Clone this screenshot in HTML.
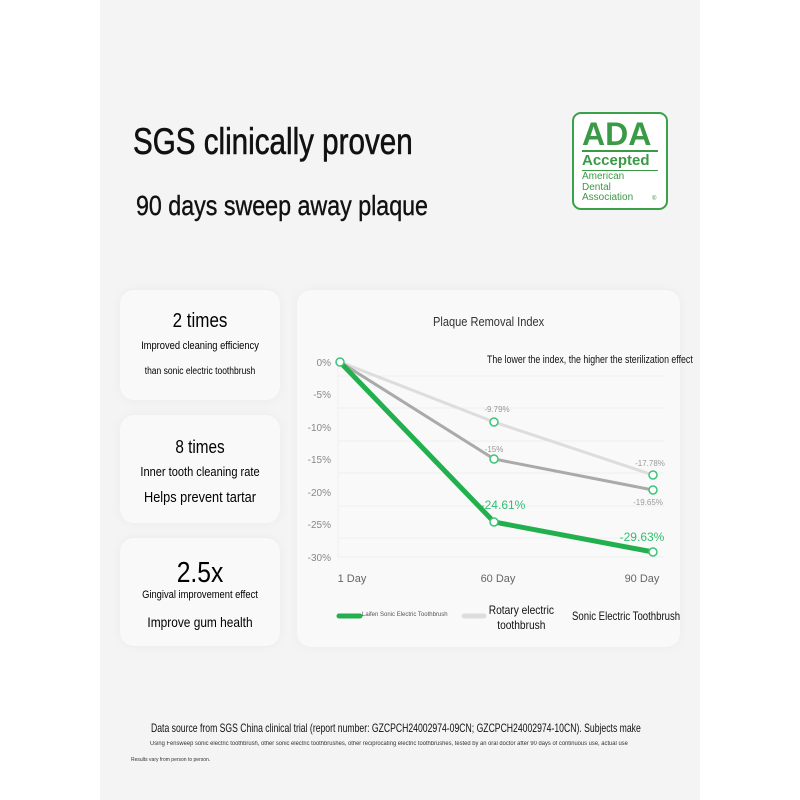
<!DOCTYPE html>
<html><head><meta charset="utf-8"><style>
body{margin:0;width:800px;height:800px;background:#fff;font-family:"Liberation Sans",sans-serif;position:relative;overflow:hidden}
.panel{position:absolute;left:100px;top:0;width:600px;height:800px;background:#f4f4f5}
.t{position:absolute;white-space:nowrap;color:#111}
.card{position:absolute;background:#f9f9fa;border-radius:14px;box-shadow:0 0 12px rgba(0,0,0,0.04)}
.c{text-align:center;position:absolute;width:100%;left:0;white-space:nowrap;transform:scaleX(0.85)}
</style></head><body>
<div class="panel"></div>
<div class="t" style="left:133px;top:121px;font-size:37px;transform:scaleX(0.8);transform-origin:left;-webkit-text-stroke:0.6px #111">SGS clinically proven</div>
<div class="t" style="left:136px;top:190px;font-size:28px;transform:scaleX(0.83);transform-origin:left;-webkit-text-stroke:0.4px #111">90 days sweep away plaque</div>
<div style="position:absolute;left:572px;top:112px;width:92px;height:94px;border:2px solid #3aa04a;border-radius:9px;background:#fff;color:#3a9a46">
<div style="position:absolute;left:8px;top:2px;font-size:32px;font-weight:bold">ADA</div>
<div style="position:absolute;left:8px;top:36px;width:76px;border-top:2px solid #3a9a46"></div>
<div style="position:absolute;left:8px;top:38px;font-size:15px;font-weight:bold">Accepted</div>
<div style="position:absolute;left:8px;top:56px;width:76px;border-top:1px solid #3a9a46"></div>
<div style="position:absolute;left:8px;top:58px;font-size:10px;line-height:10.5px">American<br>Dental<br>Association</div>
<div style="position:absolute;left:78px;top:82px;font-size:6px">®</div>
</div>
<div class="card" style="left:120px;top:290px;width:160px;height:110px">
<div class="c" style="top:20px;font-size:20px">2 times</div>
<div class="c" style="top:50px;font-size:11px">Improved cleaning efficiency</div>
<div class="c" style="top:76px;font-size:10px">than sonic electric toothbrush</div></div>
<div class="card" style="left:120px;top:415px;width:160px;height:108px">
<div class="c" style="top:22px;font-size:18px">8 times</div>
<div class="c" style="top:49px;font-size:13px">Inner tooth cleaning rate</div>
<div class="c" style="top:74px;font-size:15px">Helps prevent tartar</div></div>
<div class="card" style="left:120px;top:538px;width:160px;height:108px">
<div class="c" style="top:19px;font-size:29px">2.5x</div>
<div class="c" style="top:51px;font-size:11px">Gingival improvement effect</div>
<div class="c" style="top:76px;font-size:14px">Improve gum health</div></div>
<div class="card" style="left:297px;top:290px;width:383px;height:357px"></div>
<svg style="position:absolute;left:0;top:0" width="800" height="800">
<g font-family="Liberation Sans" font-size="10" fill="#888" text-anchor="end">
<text x="331" y="366">0%</text><text x="331" y="398">-5%</text><text x="331" y="431">-10%</text><text x="331" y="463">-15%</text><text x="331" y="496">-20%</text><text x="331" y="528">-25%</text><text x="331" y="561">-30%</text></g>
<g stroke="#eee" stroke-width="1"><line x1="338" x2="665" y1="376" y2="376"/><line x1="338" x2="665" y1="408" y2="408"/><line x1="338" x2="665" y1="441" y2="441"/><line x1="338" x2="665" y1="473" y2="473"/><line x1="338" x2="665" y1="506" y2="506"/><line x1="338" x2="665" y1="538" y2="538"/><line x1="338" x2="665" y1="557" y2="557"/><line x1="338" x2="338" y1="362" y2="557"/></g>
<polyline points="340,362 494,422 653,475" fill="none" stroke="#ddd" stroke-width="3"/>
<polyline points="340,362 494,459 653,490" fill="none" stroke="#aaa" stroke-width="3"/>
<polyline points="340,362 494,522 653,552" fill="none" stroke="#22b04f" stroke-width="5"/>
<g fill="#fff" stroke="#3cc47a" stroke-width="1.5"><circle cx="340" cy="362" r="4"/><circle cx="494" cy="422" r="4"/><circle cx="653" cy="475" r="4"/><circle cx="494" cy="459" r="4"/><circle cx="653" cy="490" r="4"/><circle cx="494" cy="522" r="4"/><circle cx="653" cy="552" r="4"/></g>
<g font-family="Liberation Sans" font-size="8" fill="#999" text-anchor="middle"><text x="497" y="412">-9.79%</text><text x="494" y="452">-15%</text><text x="650" y="466">-17.78%</text><text x="648" y="505">-19.65%</text></g>
<g font-family="Liberation Sans" font-size="12" fill="#2fbf6f" text-anchor="middle"><text x="503" y="509">-24.61%</text><text x="642" y="541">-29.63%</text></g>
<g font-family="Liberation Sans" font-size="11" fill="#666" text-anchor="middle"><text x="352" y="582">1 Day</text><text x="498" y="582">60 Day</text><text x="642" y="582">90 Day</text></g>
<line x1="339" y1="616" x2="360" y2="616" stroke="#22b04f" stroke-width="5" stroke-linecap="round"/>
<line x1="464" y1="616" x2="484" y2="616" stroke="#ddd" stroke-width="5" stroke-linecap="round"/>
</svg>
<div class="t" style="left:362px;top:612px;font-size:6px;color:#555">Laifen Sonic Electric Toothbrush</div>
<div class="t" style="left:483px;top:603px;font-size:12px;text-align:center;line-height:15px;transform:scaleX(0.85)">Rotary electric<br>toothbrush</div>
<div class="t" style="left:572px;top:609px;font-size:12px;transform:scaleX(0.8);transform-origin:left">Sonic Electric Toothbrush</div>
<div class="t" style="left:433px;top:314px;font-size:13px;color:#333;transform:scaleX(0.85);transform-origin:left">Plaque Removal Index</div>
<div class="t" style="left:487px;top:354px;font-size:11px;transform:scaleX(0.8);transform-origin:left">The lower the index, the higher the sterilization effect</div>
<div class="t" style="left:151px;top:721px;font-size:12px;transform:scaleX(0.72);transform-origin:left">Data source from SGS China clinical trial (report number: GZCPCH24002974-09CN; GZCPCH24002974-10CN). Subjects make</div>
<div class="t" style="left:150px;top:741px;font-size:6px;color:#333;transform:scaleX(0.97);transform-origin:left">Using Fensweep sonic electric toothbrush, other sonic electric toothbrushes, other reciprocating electric toothbrushes, tested by an oral doctor after 90 days of continuous use, actual use</div>
<div class="t" style="left:131px;top:757px;font-size:5px;color:#333">Results vary from person to person.</div>
</body></html>
